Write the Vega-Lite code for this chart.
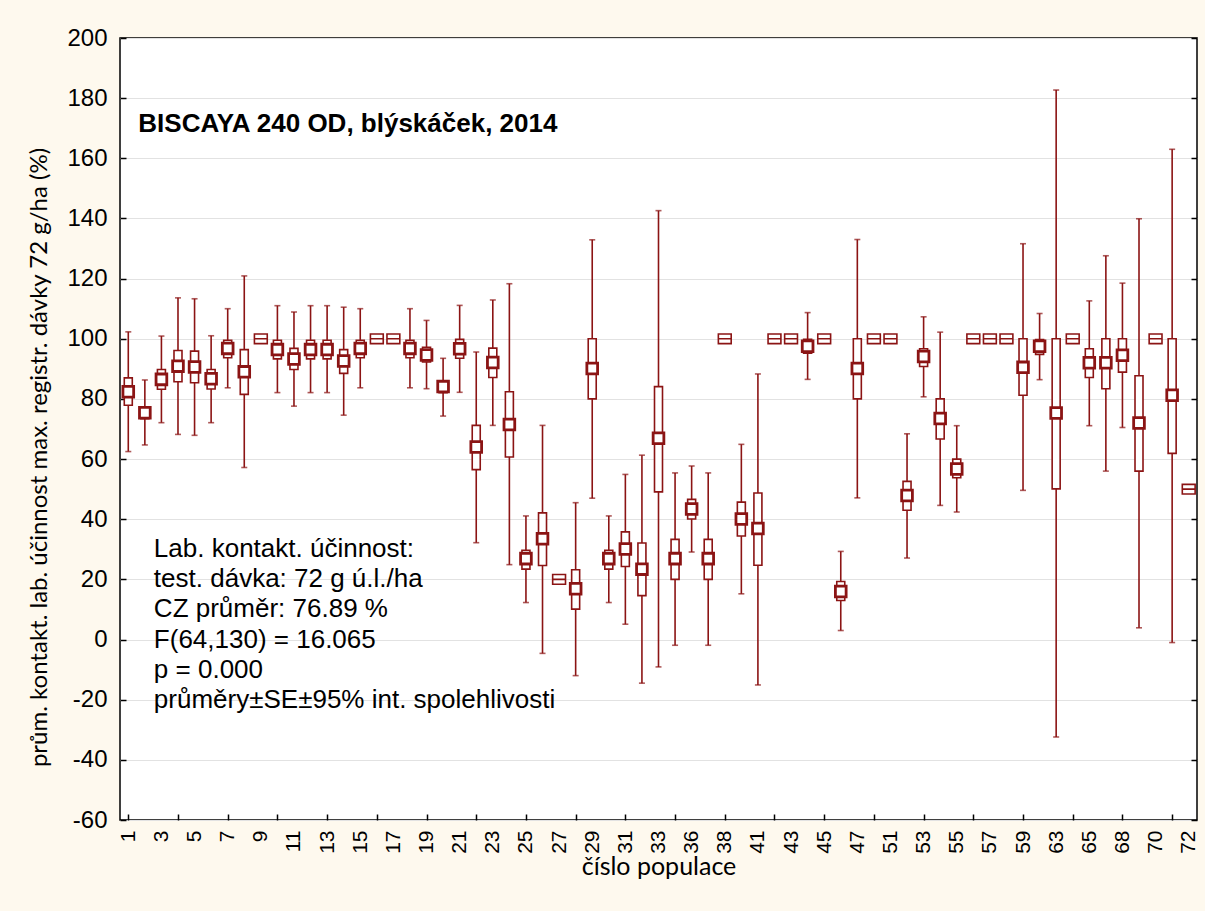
{
  "$schema": "https://vega.github.io/schema/vega-lite/v6.json",
  "width": 1077,
  "height": 782,
  "autosize": {"type": "none"},
  "padding": {"left": 120, "top": 38, "right": 8, "bottom": 91},
  "background": "#FEF9EE",
  "config": {
    "view": {"fill": "white", "stroke": "black", "strokeWidth": 1.5},
    "font": "Liberation Sans"
  },
  "datasets": {
    "pops": [
      {"pop": "1", "mean": 82.4, "se_lo": 77.9, "se_hi": 87.0, "ci_lo": 62.5, "ci_hi": 102.3},
      {"pop": "2", "mean": 75.4, "se_lo": 73.4, "se_hi": 77.4, "ci_lo": 64.7, "ci_hi": 86.3},
      {"pop": "3", "mean": 86.5, "se_lo": 83.2, "se_hi": 89.8, "ci_lo": 72.1, "ci_hi": 100.9},
      {"pop": "4", "mean": 90.9, "se_lo": 85.7, "se_hi": 96.1, "ci_lo": 68.2, "ci_hi": 113.6},
      {"pop": "5", "mean": 90.6, "se_lo": 85.4, "se_hi": 95.9, "ci_lo": 67.9, "ci_hi": 113.3},
      {"pop": "6", "mean": 86.7, "se_lo": 83.3, "se_hi": 89.8, "ci_lo": 72.1, "ci_hi": 101.0},
      {"pop": "7", "mean": 96.8, "se_lo": 93.7, "se_hi": 99.5, "ci_lo": 83.7, "ci_hi": 110.0},
      {"pop": "8", "mean": 89.0, "se_lo": 81.5, "se_hi": 96.4, "ci_lo": 57.2, "ci_hi": 120.9},
      {"pop": "9", "mean": 100, "se_lo": 100, "se_hi": 100, "ci_lo": 100, "ci_hi": 100},
      {"pop": "10", "mean": 96.4, "se_lo": 93.3, "se_hi": 99.5, "ci_lo": 82.1, "ci_hi": 111.0},
      {"pop": "11", "mean": 93.3, "se_lo": 89.8, "se_hi": 96.8, "ci_lo": 77.6, "ci_hi": 108.9},
      {"pop": "12", "mean": 96.4, "se_lo": 93.3, "se_hi": 99.5, "ci_lo": 82.1, "ci_hi": 111.0},
      {"pop": "13", "mean": 96.4, "se_lo": 93.3, "se_hi": 99.5, "ci_lo": 82.1, "ci_hi": 111.0},
      {"pop": "14", "mean": 92.6, "se_lo": 88.5, "se_hi": 96.4, "ci_lo": 74.6, "ci_hi": 110.5},
      {"pop": "15", "mean": 96.8, "se_lo": 93.7, "se_hi": 99.5, "ci_lo": 83.7, "ci_hi": 110.0},
      {"pop": "16", "mean": 100, "se_lo": 100, "se_hi": 100, "ci_lo": 100, "ci_hi": 100},
      {"pop": "17", "mean": 100, "se_lo": 100, "se_hi": 100, "ci_lo": 100, "ci_hi": 100},
      {"pop": "18", "mean": 96.8, "se_lo": 93.7, "se_hi": 99.5, "ci_lo": 83.7, "ci_hi": 110.0},
      {"pop": "19", "mean": 94.6, "se_lo": 92.3, "se_hi": 97.2, "ci_lo": 83.4, "ci_hi": 106.1},
      {"pop": "20", "mean": 84.1, "se_lo": 82.1, "se_hi": 85.7, "ci_lo": 74.3, "ci_hi": 93.5},
      {"pop": "21", "mean": 96.7, "se_lo": 93.5, "se_hi": 99.8, "ci_lo": 82.2, "ci_hi": 111.1},
      {"pop": "22", "mean": 64.0, "se_lo": 56.5, "se_hi": 71.2, "ci_lo": 32.2, "ci_hi": 95.6},
      {"pop": "23", "mean": 92.1, "se_lo": 87.1, "se_hi": 96.9, "ci_lo": 71.2, "ci_hi": 112.9},
      {"pop": "24", "mean": 71.5, "se_lo": 60.7, "se_hi": 82.4, "ci_lo": 24.9, "ci_hi": 118.3},
      {"pop": "25", "mean": 26.9, "se_lo": 23.4, "se_hi": 29.7, "ci_lo": 12.3, "ci_hi": 41.1},
      {"pop": "26", "mean": 33.5, "se_lo": 24.6, "se_hi": 42.1, "ci_lo": -4.6, "ci_hi": 71.2},
      {"pop": "27", "mean": 20, "se_lo": 20, "se_hi": 20, "ci_lo": 20, "ci_hi": 20},
      {"pop": "28", "mean": 16.9, "se_lo": 10.1, "se_hi": 23.2, "ci_lo": -12.0, "ci_hi": 45.5},
      {"pop": "29", "mean": 90.1, "se_lo": 80.0, "se_hi": 100.0, "ci_lo": 47.0, "ci_hi": 132.9},
      {"pop": "30", "mean": 26.9, "se_lo": 23.4, "se_hi": 29.7, "ci_lo": 12.3, "ci_hi": 41.1},
      {"pop": "31", "mean": 30.1, "se_lo": 24.3, "se_hi": 35.8, "ci_lo": 5.1, "ci_hi": 54.9},
      {"pop": "32", "mean": 23.4, "se_lo": 14.6, "se_hi": 32.1, "ci_lo": -14.5, "ci_hi": 61.3},
      {"pop": "33", "mean": 66.9, "se_lo": 49.1, "se_hi": 84.1, "ci_lo": -9.1, "ci_hi": 142.6},
      {"pop": "35", "mean": 26.9, "se_lo": 20.0, "se_hi": 33.3, "ci_lo": -1.9, "ci_hi": 55.4},
      {"pop": "36", "mean": 43.4, "se_lo": 40.1, "se_hi": 46.6, "ci_lo": 29.1, "ci_hi": 57.7},
      {"pop": "37", "mean": 26.9, "se_lo": 20.0, "se_hi": 33.3, "ci_lo": -1.9, "ci_hi": 55.4},
      {"pop": "38", "mean": 100, "se_lo": 100, "se_hi": 100, "ci_lo": 100, "ci_hi": 100},
      {"pop": "40", "mean": 40.1, "se_lo": 34.4, "se_hi": 45.7, "ci_lo": 15.2, "ci_hi": 64.9},
      {"pop": "41", "mean": 36.9, "se_lo": 24.7, "se_hi": 48.7, "ci_lo": -15.1, "ci_hi": 88.3},
      {"pop": "42", "mean": 100, "se_lo": 100, "se_hi": 100, "ci_lo": 100, "ci_hi": 100},
      {"pop": "43", "mean": 100, "se_lo": 100, "se_hi": 100, "ci_lo": 100, "ci_hi": 100},
      {"pop": "44", "mean": 97.5, "se_lo": 95.2, "se_hi": 99.8, "ci_lo": 86.5, "ci_hi": 108.7},
      {"pop": "45", "mean": 100, "se_lo": 100, "se_hi": 100, "ci_lo": 100, "ci_hi": 100},
      {"pop": "46", "mean": 16.0, "se_lo": 13.0, "se_hi": 19.3, "ci_lo": 3.0, "ci_hi": 29.3},
      {"pop": "47", "mean": 90.1, "se_lo": 80.0, "se_hi": 100.0, "ci_lo": 47.1, "ci_hi": 133.0},
      {"pop": "49", "mean": 100, "se_lo": 100, "se_hi": 100, "ci_lo": 100, "ci_hi": 100},
      {"pop": "51", "mean": 100, "se_lo": 100, "se_hi": 100, "ci_lo": 100, "ci_hi": 100},
      {"pop": "52", "mean": 47.9, "se_lo": 43.0, "se_hi": 52.6, "ci_lo": 27.1, "ci_hi": 68.4},
      {"pop": "53", "mean": 94.1, "se_lo": 90.8, "se_hi": 96.7, "ci_lo": 80.7, "ci_hi": 107.3},
      {"pop": "54", "mean": 73.5, "se_lo": 66.7, "se_hi": 80.0, "ci_lo": 44.6, "ci_hi": 102.2},
      {"pop": "55", "mean": 56.7, "se_lo": 53.8, "se_hi": 60.0, "ci_lo": 42.4, "ci_hi": 71.1},
      {"pop": "56", "mean": 100, "se_lo": 100, "se_hi": 100, "ci_lo": 100, "ci_hi": 100},
      {"pop": "57", "mean": 100, "se_lo": 100, "se_hi": 100, "ci_lo": 100, "ci_hi": 100},
      {"pop": "58", "mean": 100, "se_lo": 100, "se_hi": 100, "ci_lo": 100, "ci_hi": 100},
      {"pop": "59", "mean": 90.5, "se_lo": 81.2, "se_hi": 100.0, "ci_lo": 49.6, "ci_hi": 131.6},
      {"pop": "61", "mean": 97.5, "se_lo": 94.8, "se_hi": 99.7, "ci_lo": 86.4, "ci_hi": 108.4},
      {"pop": "63", "mean": 75.3, "se_lo": 50.1, "se_hi": 100.0, "ci_lo": -32.4, "ci_hi": 182.7},
      {"pop": "64", "mean": 100, "se_lo": 100, "se_hi": 100, "ci_lo": 100, "ci_hi": 100},
      {"pop": "65", "mean": 92.0, "se_lo": 87.1, "se_hi": 96.7, "ci_lo": 71.1, "ci_hi": 112.6},
      {"pop": "67", "mean": 92.0, "se_lo": 83.4, "se_hi": 100.0, "ci_lo": 56.0, "ci_hi": 127.6},
      {"pop": "68", "mean": 94.5, "se_lo": 88.9, "se_hi": 100.0, "ci_lo": 70.5, "ci_hi": 118.5},
      {"pop": "69", "mean": 72.0, "se_lo": 56.0, "se_hi": 87.7, "ci_lo": 3.9, "ci_hi": 139.9},
      {"pop": "70", "mean": 100, "se_lo": 100, "se_hi": 100, "ci_lo": 100, "ci_hi": 100},
      {"pop": "71", "mean": 81.2, "se_lo": 61.9, "se_hi": 100.0, "ci_lo": -1.0, "ci_hi": 163.0},
      {"pop": "72", "mean": 50, "se_lo": 50, "se_hi": 50, "ci_lo": 50, "ci_hi": 50}
    ],
    "notes": [
      {"pop": "2", "y": 30, "text": "Lab. kontakt. účinnost:"},
      {"pop": "2", "y": 20, "text": "test. dávka: 72 g ú.l./ha"},
      {"pop": "2", "y": 10, "text": "CZ průměr: 76.89 %"},
      {"pop": "2", "y": 0, "text": "F(64,130) = 16.065"},
      {"pop": "2", "y": -10, "text": "p = 0.000"},
      {"pop": "2", "y": -20, "text": "průměry±SE±95% int. spolehlivosti"}
    ],
    "heading": [
      {"pop": "1", "y": 171.5, "text": "BISCAYA 240 OD, blýskáček, 2014"}
    ]
  },
  "encoding": {
    "x": {
      "field": "pop",
      "type": "ordinal",
      "sort": null,
      "scale": {
        "type": "point",
        "padding": 0.5,
        "domain": ["1","2","3","4","5","6","7","8","9","10","11","12","13","14","15","16","17","18","19","20","21","22","23","24","25","26","27","28","29","30","31","32","33","35","36","37","38","40","41","42","43","44","45","46","47","49","51","52","53","54","55","56","57","58","59","61","63","64","65","67","68","69","70","71","72"]
      },
      "axis": {
        "title": "číslo populace",
        "titleFont": "Lato",
        "titleFontSize": 25,
        "titleFontWeight": "normal",
        "titleColor": "black",
        "titleY": 46,
        "titleBaseline": "middle",
        "labelAngle": -90,
        "labelAlign": "right",
        "labelBaseline": "middle",
        "labelFontSize": 21,
        "labelColor": "black",
        "labelPadding": 16,
        "labelExpr": "indexof(['1','3','5','7','9','11','13','15','17','19','21','23','25','27','29','31','33','36','38','41','43','45','47','51','53','55','57','59','63','65','68','70','72'], datum.value) >= 0 ? datum.label : ''",
        "tickSize": -6,
        "tickWidth": 1.5,
        "tickColor": "black",
        "tickOpacity": {"condition": {"test": "indexof(['1','4','7','10','13','16','19','22','25','28','31','35','38','42','45','49','53','56','59','64','68','71'], datum.value) >= 0", "value": 1}, "value": 0},
        "domain": false,
        "grid": false
      }
    }
  },
  "resolve": {"axis": {"y": "independent"}},
  "layer": [
    {
      "data": {"name": "pops"},
      "encoding": {
        "y": {
          "type": "quantitative",
          "scale": {"domain": [-60, 200], "nice": false, "zero": false},
          "axis": {
            "title": "prům. kontakt. lab. účinnost max. registr. dávky 72 g/ha (%)",
            "titleFont": "Lato",
            "titleFontSize": 24,
            "titleFontWeight": "normal",
            "titleColor": "black",
            "titleX": -81,
            "titleY": 419,
            "titleBaseline": "middle",
            "titleAlign": "center",
            "titleAngle": -90,
            "values": [-60,-40,-20,0,20,40,60,80,100,120,140,160,180,200],
            "labelExpr": "replace(datum.label, '−', '-')",
            "labelFontSize": 24,
            "labelColor": "black",
            "labelPadding": 19,
            "tickSize": -6,
            "tickWidth": 1.5,
            "tickColor": "black",
            "domain": false,
            "grid": true,
            "gridColor": "#e2e2e2",
            "gridWidth": 1.2
          }
        }
      },
      "layer": [
        {
          "transform": [{"filter": "datum.ci_hi > datum.ci_lo"}],
          "mark": {"type": "rule", "color": "#8B1414", "strokeWidth": 1.6},
          "encoding": {"y": {"field": "ci_lo", "type": "quantitative"}, "y2": {"field": "ci_hi"}}
        },
        {
          "transform": [{"filter": "datum.ci_hi > datum.ci_lo"}],
          "mark": {"type": "tick", "color": "#8B1414", "size": 6, "thickness": 1.6},
          "encoding": {"y": {"field": "ci_hi", "type": "quantitative"}}
        },
        {
          "transform": [{"filter": "datum.ci_hi > datum.ci_lo"}],
          "mark": {"type": "tick", "color": "#8B1414", "size": 6, "thickness": 1.6},
          "encoding": {"y": {"field": "ci_lo", "type": "quantitative"}}
        },
        {
          "transform": [{"filter": "datum.ci_hi > datum.ci_lo"}],
          "mark": {"type": "bar", "width": 8, "fill": "white", "stroke": "#8B1414", "strokeWidth": 1.6},
          "encoding": {"y": {"field": "se_lo", "type": "quantitative"}, "y2": {"field": "se_hi"}}
        },
        {
          "transform": [{"filter": "datum.ci_hi > datum.ci_lo"}],
          "mark": {"type": "point", "shape": "square", "size": 115, "filled": true, "fill": "white", "stroke": "#8B1414", "strokeWidth": 2.8, "opacity": 1},
          "encoding": {"y": {"field": "mean", "type": "quantitative"}}
        },
        {
          "data": {"name": "notes"},
          "mark": {"type": "text", "align": "left", "baseline": "middle", "dx": 9, "fontSize": 26, "font": "Liberation Sans", "color": "black"},
          "encoding": {"y": {"field": "y", "type": "quantitative"}, "text": {"field": "text"}}
        },
        {
          "data": {"name": "heading"},
          "mark": {"type": "text", "align": "left", "baseline": "middle", "dx": 10, "fontSize": 26, "fontWeight": "bold", "font": "Liberation Sans", "color": "black"},
          "encoding": {"y": {"field": "y", "type": "quantitative"}, "text": {"field": "text"}}
        }
      ]
    },
    {
      "data": {"name": "pops"},
      "transform": [{"filter": "datum.ci_hi == datum.ci_lo"}],
      "mark": {"type": "point", "shape": "M-1,-0.75H1V0.75H-1ZM-1,0H1", "size": 165, "filled": true, "fill": "white", "stroke": "#8B1414", "strokeWidth": 1.6, "opacity": 1},
      "encoding": {
        "y": {
          "field": "mean",
          "type": "quantitative",
          "scale": {"domain": [-60, 200], "nice": false, "zero": false},
          "axis": {
            "orient": "right",
            "title": null,
            "labels": false,
            "values": [-60,-40,-20,0,20,40,60,80,100,120,140,160,180,200],
            "tickSize": -6,
            "tickWidth": 1.5,
            "tickColor": "black",
            "domain": false,
            "grid": false
          }
        }
      }
    }
  ]
}
